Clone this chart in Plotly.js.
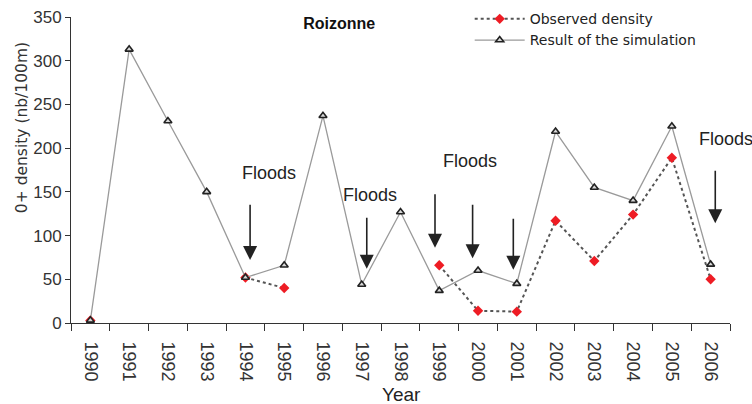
<!DOCTYPE html>
<html>
<head>
<meta charset="utf-8">
<script src="https://cdn.plot.ly/plotly-3.0.1.min.js"></script>
<style>html,body{margin:0;padding:0;background:#fff;}#chart{width:752px;height:404px;}</style>
</head>
<body>
<div id="chart"></div>
<script>
var years = ['1990','1991','1992','1993','1994','1995','1996','1997','1998','1999','2000','2001','2002','2003','2004','2005','2006'];
var simulated = [3, 313, 231, 150, 52, 66, 237, 44, 127, 37, 60, 45, 219, 155, 140, 225, 67];
var observed = [3, null, null, null, 52, 40, null, null, null, 66, 14, 13, 117, 71, 124, 189, 50];

// Flood arrows: position (category index), tail value, head value
var floodArrowX = [4.12, 7.13, 8.89, 9.86, 10.91, 16.12];
var floodArrowTail = [137, 122, 149, 137, 121, 176];
var floodArrowHead = [72, 62, 86, 74, 61, 114];
// Flood labels: position (category index), value
var floodLabelX = [4.61, 7.21, 9.78, 16.39];
var floodLabelY = [171.5, 146, 185, 210.5];

var FONT = 'Liberation Sans, Arial, sans-serif';

var traces = [
  {
    x: years, y: observed, name: 'Observed density', type: 'scatter', mode: 'lines+markers',
    connectgaps: false,
    line: {color: '#555555', width: 2, dash: 'dot'},
    marker: {symbol: 'diamond', size: 8, color: '#ee1c24'}
  },
  {
    x: years, y: simulated, name: 'Result of the simulation', type: 'scatter', mode: 'lines+markers',
    line: {color: '#9a9a9a', width: 1.3},
    marker: {symbol: 'triangle-up', size: 7, color: '#d8d8d8', line: {color: '#222222', width: 1.6}}
  }
];

var annotations = [];
for (var i = 0; i < floodArrowX.length; i++) {
  annotations.push({
    x: floodArrowX[i], y: floodArrowHead[i], xref: 'x', yref: 'y',
    ax: floodArrowX[i], ay: floodArrowTail[i], axref: 'x', ayref: 'y',
    text: '', showarrow: true, arrowhead: 2, arrowsize: 1.75, arrowwidth: 1.6,
    arrowcolor: '#222222', standoff: 0, startstandoff: 0
  });
}
for (var j = 0; j < floodLabelX.length; j++) {
  annotations.push({
    x: floodLabelX[j], y: floodLabelY[j], xref: 'x', yref: 'y',
    text: 'Floods', showarrow: false, xanchor: 'center', yanchor: 'middle',
    font: {family: FONT, size: 18, color: '#222222'}
  });
}
annotations.push({
  xref: 'paper', yref: 'paper', x: 0.5008, y: -0.235, xanchor: 'center', yanchor: 'middle',
  text: 'Year', showarrow: false, font: {family: FONT, size: 19, color: '#222222'}
});
annotations.push({
  xref: 'paper', yref: 'paper', x: -0.0744, y: 0.64, xanchor: 'center', yanchor: 'middle',
  text: '0+ density (nb/100m)', textangle: -90, showarrow: false,
  font: {family: 'DejaVu Sans, sans-serif', size: 15.5, color: '#333333'}
});

var layout = {
  width: 752, height: 404,
  margin: {l: 71, r: 22, t: 17, b: 81, autoexpand: false},
  paper_bgcolor: '#ffffff', plot_bgcolor: '#ffffff',
  font: {family: FONT, color: '#333333'},
  title: {
    text: '<b>Roizonne</b>', xref: 'container', yref: 'container',
    x: 0.451, y: 0.943, xanchor: 'center', yanchor: 'middle',
    font: {family: FONT, size: 16, color: '#111111'}
  },
  showlegend: true,
  legend: {
    x: 0.605, y: 1.045, xanchor: 'left', yanchor: 'top',
    bgcolor: 'rgba(0,0,0,0)', font: {family: 'DejaVu Sans, sans-serif', size: 14, color: '#222222'},
    itemwidth: 50, tracegroupgap: 0
  },
  xaxis: {
    type: 'category', range: [-0.5, 16.5], tickson: 'boundaries', automargin: false,
    ticks: 'outside', ticklen: 7, tickwidth: 1, tickcolor: '#333333',
    showline: true, linecolor: '#333333', linewidth: 1,
    showgrid: false, zeroline: false, tickangle: 90, ticklabelstandoff: 14,
    tickfont: {family: FONT, size: 18, color: '#333333'},
    fixedrange: true
  },
  yaxis: {
    range: [0, 350], dtick: 50, tick0: 0, automargin: false,
    ticks: 'outside', ticklen: 5, tickwidth: 1, tickcolor: '#333333',
    showline: true, linecolor: '#333333', linewidth: 1,
    showgrid: false, zeroline: false,
    tickfont: {family: FONT, size: 17, color: '#333333'},
    fixedrange: true
  },
  annotations: annotations
};

Plotly.newPlot('chart', traces, layout, {displayModeBar: false, staticPlot: true});
</script>
</body>
</html>
